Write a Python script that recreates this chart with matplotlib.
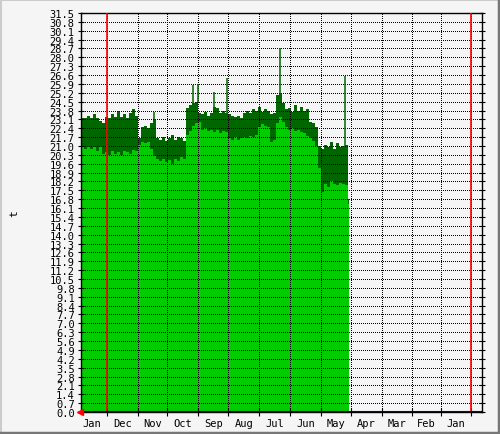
import matplotlib
matplotlib.use("Agg")
import matplotlib.pyplot as plt
import numpy as np

# max / min per 3 days (x is days from the left edge)
upper = [23.2, 23.2, 23.4, 23.2, 23.5, 23.2, 23.0, 22.8, 23.3, 23.2,
         23.5, 23.3, 23.8, 23.3, 23.5, 23.2, 23.6, 23.9, 23.4, 21.6,
         22.5, 22.6, 22.4, 22.8, 23.1, 21.6, 21.5, 21.7, 21.4, 21.6,
         21.9, 21.5, 21.7, 21.6, 21.4, 24.0, 24.2, 24.4, 24.5, 23.6,
         23.5, 23.7, 23.4, 23.6, 24.1, 24.0, 23.6, 23.8, 23.6, 23.5,
         23.4, 23.3, 23.4, 23.2, 23.6, 23.8, 23.6, 23.9, 23.8, 24.1,
         23.7, 23.9, 23.8, 23.5, 23.6, 25.0, 25.2, 24.4, 23.9, 24.0,
         23.7, 24.2, 23.8, 24.1, 23.8, 23.9, 22.9, 22.8, 22.5, 21.0,
         20.8, 21.1, 20.9, 21.3, 20.8, 21.2, 20.9, 21.0, 21.1, 16.8]
lower = [20.9, 20.8, 20.9, 20.8, 20.9, 20.6, 20.9, 20.4, 20.5, 20.3,
         20.6, 20.4, 20.5, 20.3, 20.6, 20.5, 20.4, 20.7, 20.6, 21.1,
         21.3, 21.2, 21.3, 20.8, 20.2, 20.0, 19.8, 20.0, 19.7, 19.9,
         19.6, 20.0, 19.8, 20.1, 20.0, 21.9, 22.2, 22.6, 22.8, 22.9,
         22.3, 22.4, 22.2, 22.3, 22.1, 22.3, 22.0, 22.2, 22.1, 21.6,
         21.5, 21.7, 21.5, 21.6, 21.7, 21.6, 21.8, 21.7, 21.9, 22.5,
         22.7, 22.6, 22.5, 21.3, 21.5, 22.8, 23.3, 22.9, 22.5, 22.3,
         22.4, 22.2, 22.3, 22.1, 22.0, 21.8, 21.6, 21.4, 21.0, 19.3,
         17.4, 18.0, 17.8, 18.2, 18.0, 17.9, 18.1, 18.0, 17.9, 16.4]
days = np.arange(len(upper)) * 3

# single-day peaks
spike_days = [72, 111, 116, 132, 145, 198, 263]
spike_vals = [23.7, 25.8, 25.9, 25.3, 26.4, 28.7, 26.5]

month_edges = [25.7, 56.7, 86.3, 117.3, 147.3, 178.3, 209, 239.7, 270,
               300.7, 331.3, 359.7, 390]
month_labels = ["Jan", "Dec", "Nov", "Oct", "Sep", "Aug", "Jul", "Jun",
                "May", "Apr", "Mar", "Feb", "Jan"]
month_mids = [11, 41.2, 71.5, 101.8, 132.3, 162.8, 193.6, 224.3, 254.8,
              285.3, 316, 345.5, 374.8]
red_marks = [25.7, 390]

bg = "#f5f5f5"
fig = plt.figure(figsize=(5, 4.35), dpi=100, facecolor=bg)
ax = fig.add_axes([81 / 500, 22 / 435, 401 / 500, 399 / 435])
ax.set_facecolor(bg)

# extend last step by one day
xs = np.append(days, days[-1] + 1)
lo = np.append(lower, lower[-1])
hi = np.append(upper, upper[-1])
ax.fill_between(xs, 0, lo, step="post", color="#00cc00", lw=0)
ax.fill_between(xs, lo, hi, step="post", color="#006600", lw=0)
spike_base = [upper[d // 3] for d in spike_days]
ax.vlines(np.array(spike_days) + 0.5, spike_base, spike_vals, color="#006600", lw=1.1)

ax.set_xlim(0, 401)
ax.set_ylim(0, 31.5)

yt = np.round(np.arange(0, 31.51, 0.7), 1)
ax.set_yticks(yt)
ax.set_yticklabels(["%.1f" % v for v in yt], family="DejaVu Sans Mono", fontsize=7.5)
ax.set_xticks(month_edges)
ax.set_xticklabels([])
ax.set_xticks(month_mids, minor=True)
ax.set_xticklabels(month_labels, minor=True, family="DejaVu Sans Mono", fontsize=7.5)
ax.tick_params(axis="x", which="minor", length=0, pad=4)
ax.tick_params(axis="x", which="major", direction="inout", length=6, width=0.8)
ax.tick_params(axis="y", direction="inout", length=5, width=0.8, right=True, pad=2)

for v in yt[1:]:
    ax.axhline(v, color="black", lw=0.72, ls=(0, (1, 2)), zorder=1.5, antialiased=False)
for e in month_edges:
    ax.axvline(e, color="black", lw=0.72, ls=(0, (1, 2)), zorder=1.5, antialiased=False)

for r in red_marks:
    ax.axvline(r, color="red", lw=1.2, zorder=3)
ax.axhline(0, color="#000099", lw=1.5, zorder=3)
ax.plot([-1.5], [0], marker="<", color="red", ms=5, clip_on=False, zorder=4)

for s in ax.spines.values():
    s.set_linewidth(1)
ax.set_ylabel("t", family="DejaVu Sans Mono", fontsize=8)
ax.yaxis.set_label_coords(-0.155, 0.5)

# outer frame
fig.add_artist(plt.Line2D([0, 1], [1 - 1 / 435, 1 - 1 / 435], color="#cccccc", lw=1.5))
fig.add_artist(plt.Line2D([1 / 500, 1 / 500], [0, 1], color="#cccccc", lw=1.5))
fig.add_artist(plt.Line2D([0, 1], [1.5 / 435, 1.5 / 435], color="#777777", lw=2.5))
fig.add_artist(plt.Line2D([1 - 1.5 / 500, 1 - 1.5 / 500], [0, 1], color="#777777", lw=2.5))

fig.savefig("out.png", dpi=100, facecolor=bg)
